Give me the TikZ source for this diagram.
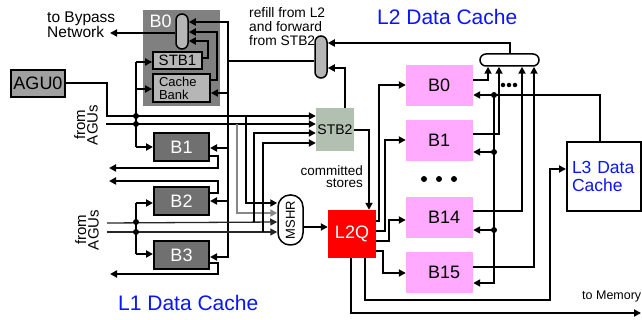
\documentclass[tikz,border=0pt]{standalone}
\usepackage{fontspec}
\setmainfont{Liberation Sans}
\usetikzlibrary{arrows.meta}
\definecolor{outergrey}{RGB}{128,128,128}
\definecolor{bankgrey}{RGB}{112,112,112}
\definecolor{lightgrey}{RGB}{182,182,182}
\definecolor{agugrey}{RGB}{160,160,160}
\definecolor{stbgreen}{RGB}{178,192,178}
\definecolor{pinkbank}{RGB}{255,170,255}
\definecolor{titleblue}{RGB}{10,20,255}
\definecolor{wiregrey}{RGB}{135,135,135}
\newcommand{\fsz}[2]{\fontsize{#1}{#2}\selectfont}
\begin{document}
\begin{tikzpicture}[x=1pt,y=-1pt,
  w/.style={line width=2pt},
  arr/.style={line width=2pt,-{Triangle[length=7pt,width=7pt]}},
  darr/.style={line width=2pt,{Triangle[length=7pt,width=7pt]}-{Triangle[length=7pt,width=7pt]}},
  box/.style={draw,line width=2pt,inner sep=0pt,align=center},
  bank/.style={box,fill=bankgrey,text=white,minimum width=55pt,minimum height=28pt,font=\fsz{18}{18}},
  pbank/.style={fill=pinkbank,minimum width=67pt,minimum height=41pt,inner sep=0pt,font=\fsz{18}{18},text width=23pt,align=left},
  oval/.style={draw,line width=1.5pt,rounded corners=6pt,fill=lightgrey,inner sep=0pt},
  lbl/.style={inner sep=0pt,align=left},
  dot/.style={circle,fill,inner sep=0pt,minimum size=6pt},
  sdot/.style={circle,fill,inner sep=0pt,minimum size=4.5pt},
  title/.style={inner sep=0pt,text=titleblue,font=\fsz{21}{21},anchor=base west}]
\useasboundingbox (0,0) rectangle (642,320);

% ---------- L1 side nodes ----------
\node[fill=outergrey,minimum width=77pt,minimum height=96pt,inner sep=0pt] (l1b0) at (181.5,58) {};
\node[inner sep=0pt,text=white,font=\fsz{18}{18},anchor=base west] (l1b0lbl) at (149.5,28) {B0};
\node[oval,minimum width=12pt,minimum height=35pt] (mux1) at (182,31.5) {};
\node[box,fill=lightgrey,line width=1.8pt,minimum width=49pt,minimum height=17pt,font=\fsz{15}{15}] (stb1) at (177.5,60.5) {STB1};
\node[box,fill=lightgrey,line width=1.8pt,minimum width=57pt,minimum height=28pt,font=\fsz{13}{13},text width=45pt,align=left] (cbank) at (181.5,88) {Cache\\Bank};
\node[box,fill=agugrey,minimum width=54pt,minimum height=27pt,font=\fsz{18}{18}] (agu) at (38,83.5) {AGU0};
\node[bank] (b1) at (181.5,147.5) {B1};
\node[bank] (b2) at (181.5,201) {B2};
\node[bank] (b3) at (181.5,255) {B3};
\node[oval,minimum width=12pt,minimum height=42pt] (mux2) at (321,57) {};
\node[fill=stbgreen,inner sep=0pt,minimum width=38pt,minimum height=43pt,font=\fsz{14}{14}] (stb2) at (335,129.5) {STB2};
\node[draw,line width=1.5pt,fill=white,rounded corners=12pt,minimum width=25pt,minimum height=50pt,inner sep=0pt] (mshr) at (290.5,220) {};
\node[rotate=90,inner sep=0pt,font=\fsz{13}{13}] (mshrtxt) at (mshr) {MSHR};
\node[fill=red,minimum size=48pt,inner sep=0pt,text=white,font=\fsz{18}{18}] (l2q) at (352,234) {L2Q};

% ---------- L2 side nodes ----------
\node[pbank] (pb0) at (439.5,85.5) {B0};
\node[pbank] (pb1) at (439.5,140.5) {B1};
\node[pbank] (pb14) at (439.5,217.5) {B14};
\node[pbank] (pb15) at (439.5,272.5) {B15};
\node[draw,line width=1.5pt,fill=white,rounded corners=6pt,minimum width=59pt,minimum height=12pt,inner sep=0pt] (l2mux) at (509.5,60) {};
\node[draw,line width=2pt,fill=white,minimum width=74pt,minimum height=69pt,inner sep=0pt,text width=64pt,align=left,text=titleblue,font=\fsz{17.5}{18}] (l3) at (604,176.5) {L3 Data\\Cache};

% ---------- texts ----------
\node[lbl,font=\fsz{15.5}{14},anchor=north west] (bypasstxt) at (47,11.5) {to Bypass\\Network};
\node[lbl,font=\fsz{13.8}{14},anchor=north west] (refilltxt) at (249,7.5) {refill from L2\\and forward\\from STB2};
\node[inner sep=0pt,font=\fsz{13.5}{12},align=right,anchor=north east] (commtxt) at (363,165.5) {committed\\stores};
\node[rotate=90,inner sep=0pt,font=\fsz{15}{12.5},align=center] (agus1) at (86,125) {from\\AGUs};
\node[rotate=90,inner sep=0pt,font=\fsz{15}{12.5},align=center] (agus2) at (87,230) {from\\AGUs};
\node[inner sep=0pt,font=\fsz{12.5}{12},anchor=base west] (memtxt) at (582,299) {to Memory};
\node[title] (l2title) at (377,25) {L2 Data Cache};
\node[title] (l1title) at (118,310) {L1 Data Cache};

% ---------- free ends ----------
\coordinate (bypass) at (110,33);
\coordinate (o1) at (109,168);
\coordinate (o2) at (109,181);
\coordinate (o3) at (110,274);
\coordinate (a2) at (106,124);
\coordinate (a3) at (107,223);
\coordinate (a4) at (107,232);
\coordinate (mem) at (641,313);

% ---------- L1 wires ----------
\draw[arr] (mux1.west |- bypass) -- (bypass);
\draw[darr] (mux1.east |- 0,22) -- (228,22) -- (228,257) -- (b3.east |- 0,257);
\draw[arr] (228,93) -- (cbank.east |- 0,93);
\draw[arr] (228,148) -- (b1.east |- 0,148);
\draw[arr] (228,201) -- (b2.east |- 0,201);
\draw[w] (228,61) -- (mux2.west |- 0,61);
\draw[arr] (cbank.east |- 0,80) -- (217,80) -- (217,32) -- (mux1.east |- 0,32);
\draw[arr] (stb1.east |- 0,58) -- (208,58) -- (208,41) -- (mux1.east |- 0,41);

\draw[arr] (agu.east) -- (107,83.5) -- (107,116) -- (stb2.west |- 0,116);
\draw[arr] (a2) -- (stb2.west |- 0,124);
\draw[w] (136,62) -- (136,147);
\draw[arr] (136,62) -- (stb1.west |- 0,62);
\draw[arr] (136,89) -- (cbank.west |- 0,89);
\draw[arr] (136,147) -- (b1.west |- 0,147);
\node[dot] (d1) at (136,116) {};
\node[dot] (d2) at (136,124) {};

\draw[line width=1.3pt,black!85,-{Triangle[length=7pt,width=7pt]}] (a3) -- (mshr.west |- 0,222);
\draw[line width=1.3pt,black!85,-{Triangle[length=7pt,width=7pt]}] (a4) -- (mshr.west |- 0,232);
\draw[w] (136,203) -- (136,254);
\draw[arr] (136,203) -- (b2.west |- 0,203);
\draw[arr] (136,254) -- (b3.west |- 0,254);
\node[dot] (d3) at (136,222) {};
\node[dot] (d4) at (136,232) {};

\draw[arr] (246,116) -- (246,203) -- (mshr.west |- 0,203);
\draw[arr,wiregrey] (237,124) -- (237,213) -- (mshr.west |- 0,213);
\draw[arr] (254,222) -- (254,133) -- (stb2.west |- 0,133);
\draw[arr] (263,232) -- (263,143) -- (stb2.west |- 0,143);

\draw[arr] (b1.east |- 0,156) -- (218,156) -- (218,168) -- (o1);
\draw[arr] (b2.east |- 0,193) -- (218,193) -- (218,181) -- (o2);
\draw[arr] (b3.east |- 0,263) -- (218,263) -- (218,274) -- (o3);

% ---------- middle wires ----------
\draw[arr] (stb2.north -| 345,0) -- (345,68) -- (mux2.east |- 0,68);
\draw[arr] (l2mux.north) -- (509.5,43) -- (mux2.east |- 0,43);
\draw[arr] (stb2.east |- 0,130) -- (369,130) -- (l2q.north -| 369,0);
\draw[arr] (mshr.east |- 0,227) -- (l2q.west |- 0,227);

% ---------- L2Q to banks ----------
\draw[arr] (l2q.east |- 0,221) -- (379,221) -- (379,85) -- (pb0.west |- 0,85);
\draw[arr] (l2q.east |- 0,231) -- (385,231) -- (385,140) -- (pb1.west |- 0,140);
\draw[arr] (l2q.east |- 0,241) -- (389,241) -- (389,220) -- (pb14.west |- 0,220);
\draw[arr] (l2q.east |- 0,251) -- (383,251) -- (383,273) -- (pb15.west |- 0,273);
\node[dot] (e1) at (424,179) {};
\node[dot] (e2) at (439,179) {};
\node[dot] (e3) at (454,179) {};

% ---------- banks to L2 mux ----------
\draw[arr] (pb0.east |- 0,80) -- (488,80) -- (l2mux.south -| 488,0);
\draw[arr] (pb1.east |- 0,134) -- (499,134) -- (l2mux.south -| 499,0);
\draw[arr] (pb14.east |- 0,211) -- (522,211) -- (l2mux.south -| 522,0);
\draw[arr] (pb15.east |- 0,267) -- (534,267) -- (l2mux.south -| 534,0);
\node[sdot] (f1) at (503,85) {};
\node[sdot] (f2) at (509,85) {};
\node[sdot] (f3) at (515,85) {};

% ---------- L3 refill to banks ----------
\draw[arr] (l3.north -| 600,0) -- (600,95) -- (pb0.east |- 0,95);
\draw[arr] (494,95) -- (494,283) -- (pb15.east |- 0,283);
\draw[arr] (494,152) -- (pb1.east |- 0,152);
\draw[arr] (494,230) -- (pb14.east |- 0,230);
\node[dot] (g1) at (494,95) {};
\node[dot] (g2) at (494,152) {};
\node[dot] (g3) at (494,230) {};

% ---------- L2Q to L3 and memory ----------
\draw[arr] (l2q.south -| 365,0) -- (365,300) -- (550,300) -- (550,169) -- (l3.west |- 0,169);
\draw[arr] (l2q.south -| 351,0) -- (351,313) -- (mem);
\end{tikzpicture}
\end{document}
